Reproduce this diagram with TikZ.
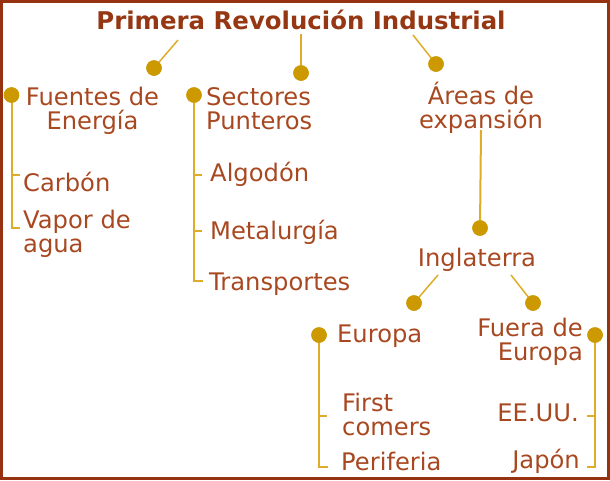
\documentclass[tikz,border=0pt]{standalone}
\usepackage{fontspec}
\setmainfont{DejaVu Sans}
\definecolor{txt}{RGB}{168,72,32}
\definecolor{ttl}{RGB}{150,55,20}
\definecolor{framec}{RGB}{150,50,15}
\definecolor{dotc}{RGB}{204,153,0}
\definecolor{linec}{RGB}{222,172,40}
\begin{document}
\begin{tikzpicture}[x=1pt,y=-1pt,
  lbl/.style={text=txt, font=\fontsize{24.2}{24}\selectfont, inner sep=0pt},
  ttlstyle/.style={text=ttl, font=\bfseries\fontsize{24.4}{28}\selectfont, inner sep=0pt},
  dot/.style={circle, fill=dotc, inner sep=0pt, minimum size=15.5pt},
  conn/.style={draw=linec, line width=2pt},
  diag/.style={draw=linec, line width=1.5pt}]
\useasboundingbox (0,0) rectangle (610,480);
\draw[framec, line width=3pt] (1.5,1.5) rectangle (608.5,478.5);

% title
\node[ttlstyle, anchor=base] (title) at (301,29.5) {Primera Revolución Industrial};

% level 1 labels (base anchor = baseline of last line)
\node[lbl, anchor=base, align=center] (fuentes) at (92.5,129) {Fuentes de\\Energía};
\node[lbl, anchor=base west, align=left] (sectores) at (206,129) {Sectores\\Punteros};
\node[lbl, anchor=base, align=center] (areas) at (481,128) {Áreas de\\expansión};

% left column items
\node[lbl, anchor=base west] (carbon) at (23,191) {Carbón};
\node[lbl, anchor=base west, align=left] (vapor) at (23,252) {Vapor de\\agua};

% middle column items
\node[lbl, anchor=base west] (algodon) at (210,181) {Algodón};
\node[lbl, anchor=base west] (metal) at (210,239) {Metalurgía};
\node[lbl, anchor=base west] (transp) at (209,290) {Transportes};

% right branch
\node[lbl, anchor=base] (ingl) at (477,266) {Inglaterra};
\node[lbl, anchor=base west] (europa) at (337,342) {Europa};
\node[lbl, anchor=base east, align=right] (fuera) at (583,360) {Fuera de\\Europa};
\node[lbl, anchor=base west, align=left] (first) at (342,435) {First\\comers};
\node[lbl, anchor=base west] (perif) at (341,470) {Periferia};
\node[lbl, anchor=base east] (eeuu) at (579,421) {EE.UU.};
\node[lbl, anchor=base east] (japon) at (580,468) {Japón};

% dots
\node[dot] (dA) at (154,68) {};
\node[dot] (dB) at (301,73) {};
\node[dot] (dC) at (436,64) {};
\node[dot] (dF) at (11.5,95) {};
\node[dot] (dS) at (194,95) {};
\node[dot] (dI) at (480,228) {};
\node[dot] (dE1) at (414,303) {};
\node[dot] (dE2) at (533,303) {};
\node[dot] (dEu) at (319,335) {};
\node[dot] (dFu) at (595,335) {};

% connector coordinates
\coordinate (cA) at (178,40);
\coordinate (cB) at (301,34);
\coordinate (cC) at (413,35);
\coordinate (cAr) at (481,130);
\coordinate (cI1) at (438,275);
\coordinate (cI2) at (511,275);

\coordinate (fT) at (11.5,175);  \coordinate (fTe) at (20,175);
\coordinate (fB) at (11.5,228);  \coordinate (fBe) at (20,228);
\coordinate (sT1) at (194,175); \coordinate (sT1e) at (202,175);
\coordinate (sT2) at (194,231); \coordinate (sT2e) at (202,231);
\coordinate (sB) at (194,281);  \coordinate (sBe) at (203,281);
\coordinate (eT) at (319,416);  \coordinate (eTe) at (327,416);
\coordinate (eB) at (319,467);  \coordinate (eBe) at (328,467);
\coordinate (uT) at (595,416);  \coordinate (uTe) at (587,416);
\coordinate (uB) at (595,467);  \coordinate (uBe) at (587,467);

% connectors from title and Inglaterra
\draw[diag] (cA) -- (dA.center);
\draw[conn] (cB) -- (dB.center);
\draw[diag] (cC) -- (dC.center);
\draw[conn] (cAr) -- (dI.center);
\draw[diag] (cI1) -- (dE1.center);
\draw[diag] (cI2) -- (dE2.center);

% brackets
\draw[conn] (dF.center) -- (fB) -- (fBe);
\draw[conn] (fT) -- (fTe);
\draw[conn] (dS.center) -- (sB) -- (sBe);
\draw[conn] (sT1) -- (sT1e);
\draw[conn] (sT2) -- (sT2e);
\draw[conn] (dEu.center) -- (eB) -- (eBe);
\draw[conn] (eT) -- (eTe);
\draw[conn] (dFu.center) -- (uB) -- (uBe);
\draw[conn] (uT) -- (uTe);

% redraw dots on top
\foreach \d in {dA,dB,dC,dF,dS,dI,dE1,dE2,dEu,dFu}
  \fill[dotc] (\d) circle (7.75pt);
\end{tikzpicture}
\end{document}
